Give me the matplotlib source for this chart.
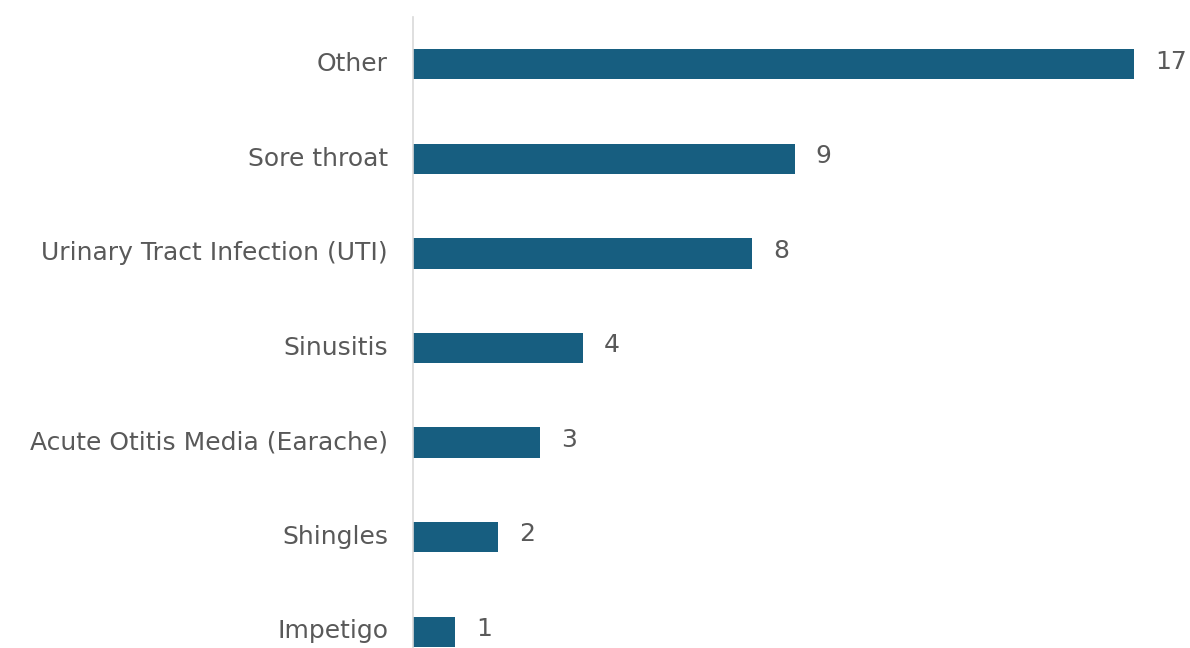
import matplotlib.pyplot as plt
from matplotlib.transforms import ScaledTranslation

plt.rcParams["font.family"] = "DejaVu Sans"

categories = ['Other', 'Sore throat', 'Urinary Tract Infection (UTI)', 'Sinusitis',
              'Acute Otitis Media (Earache)', 'Shingles', 'Impetigo']
counts = [17, 9, 8, 4, 3, 2, 1]

BAR_COLOR = '#175E80'
TEXT_COLOR = '#595959'
FS = 18

fig = plt.figure(figsize=(11.9, 6.48), dpi=100)
ax = fig.add_axes([413 / 1190, 1 - 679 / 648, 1 - 413 / 1190, 662 / 648])

ypos = list(range(len(categories)))
ax.barh(ypos, counts, height=0.32, color=BAR_COLOR)
ax.set_ylim(len(categories) - 0.5, -0.5)
ax.set_xlim(0, (1190 - 413) / 42.4)

ax.set_yticks(ypos)
ax.set_yticklabels(categories, fontsize=FS, color=TEXT_COLOR)
ax.tick_params(axis='y', length=0, pad=18)
ax.set_xticks([])

# nudge labels up a little, like the original
up = ScaledTranslation(0, 2 / 72, fig.dpi_scale_trans)
for lab in ax.get_yticklabels():
    lab.set_transform(lab.get_transform() + up)

for y, v in zip(ypos, counts):
    ax.text(v + 0.5, y, str(v), va='center', ha='left', fontsize=FS, color=TEXT_COLOR,
            transform=ax.transData + up)

for s in ['top', 'right', 'bottom']:
    ax.spines[s].set_visible(False)
ax.spines['left'].set_color('#D9D9D9')
ax.spines['left'].set_linewidth(1.2)

fig.savefig('out.png', dpi=100)
